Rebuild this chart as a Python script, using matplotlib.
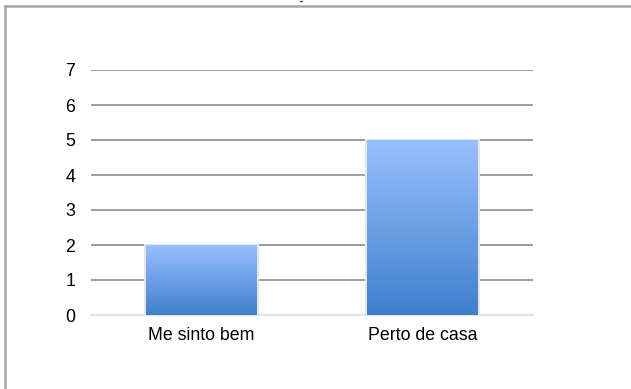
import numpy as np
import matplotlib.pyplot as plt
from matplotlib.lines import Line2D

categories = ['Me sinto bem', 'Perto de casa']
values = [2, 5]
y_ticks = [0, 1, 2, 3, 4, 5, 6, 7]

plt.rcParams['font.family'] = ['Liberation Sans', 'DejaVu Sans']

fig = plt.figure(figsize=(6.31, 3.89), dpi=100)
ax = fig.add_axes([91 / 631, 74 / 389, 442 / 631, 245 / 389])

x = np.arange(len(categories))
bars = ax.bar(x, values, width=0.5, color='none', edgecolor='none', zorder=3)

# vertical blue gradient inside each bar
grad = np.linspace(0, 1, 256).reshape(-1, 1)
top = np.array([0.60, 0.75, 1.00])
bottom = np.array([0.25, 0.50, 0.80])
rgb = bottom + (top - bottom) * grad[..., None]
for b in bars:
    bx, by = b.get_x(), b.get_y()
    w, h = b.get_width(), b.get_height()
    # faint shadow edge
    ax.add_patch(plt.Rectangle((bx - 0.01, by), w + 0.02, h + 0.03,
                               facecolor='#e6e6e6', edgecolor='none', zorder=2.5))
    im = ax.imshow(rgb, extent=(bx, bx + w, by, by + h), origin='lower',
                   aspect='auto', zorder=3)
    im.set_clip_path(b)

ax.set_xlim(-0.5, 1.5)
ax.set_ylim(0, 7)
ax.set_yticks(y_ticks)
ax.set_xticks(x)
ax.set_xticklabels(categories)
ax.tick_params(length=0, labelsize=12.8, colors='#000000')
ax.tick_params(axis='y', pad=11.5)
ax.tick_params(axis='x', pad=8.5)

for t in y_ticks[1:]:
    ax.axhline(t, color='#8c8c8c', lw=1.2, zorder=1)
ax.axhline(0, color='#dbe5f1', lw=1.5, zorder=1, clip_on=False)

for s in ax.spines.values():
    s.set_visible(False)

# outer frame along the top and left edges
fig.add_artist(Line2D([4.5 / 631, 1], [1 - 6 / 389, 1 - 6 / 389],
                      color='#a6a6a6', lw=1.8, transform=fig.transFigure))
fig.add_artist(Line2D([4.5 / 631, 4.5 / 631], [0, 1 - 6 / 389],
                      color='#a6a6a6', lw=1.8, transform=fig.transFigure))
fig.add_artist(Line2D([300 / 631, 302 / 631], [1 - 1.2 / 389, 1 - 1.2 / 389],
                      color='#555555', lw=1.0, transform=fig.transFigure))

fig.savefig('out.png', dpi=100)
